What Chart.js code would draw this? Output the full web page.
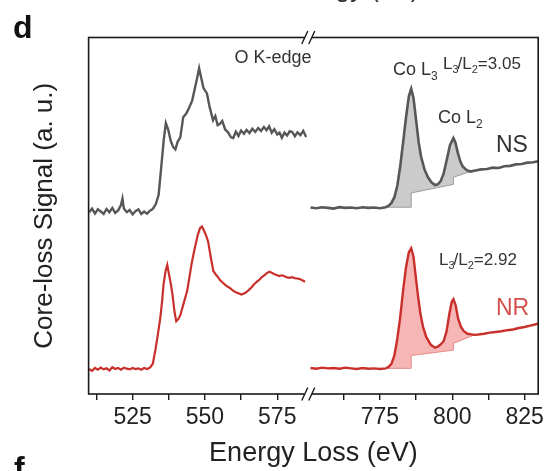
<!DOCTYPE html>
<html>
<head>
<meta charset="utf-8">
<script src="https://cdn.jsdelivr.net/npm/chart.js@4.4.1/dist/chart.umd.min.js"></script>
<style>
  html, body { margin: 0; padding: 0; background: #fff; }
  #c { display: block; }
</style>
</head>
<body>
<canvas id="c" width="548" height="471"></canvas>
<script>
/* EELS core-loss spectra, O K-edge + Co L-edge, broken energy axis */

// axis segments (eV) either side of the break
const leftRange = [509.8, 585.9];
const rightRange = [750.4, 829.7];
const majorTicks = [525, 550, 575, 775, 800, 825];
const minorTicks = [512.5, 537.5, 562.5, 762.5, 787.5, 812.5];

// NS, O K-edge
const oEnergyNS = [510,511,512,513,514,515,516,517,518,519,520,521,521.5,522,523,524,525,526,527,528,529,530,531,532,533,534,535,535.8,536.5,537.3,538.2,539,539.8,540.6,541.5,542.5,543.5,544.5,545.6,546.5,547.3,548,548.7,549.5,550.7,551.6,552.8,553.6,554.4,555.2,556,557,558,559,559.8,560.7,561.6,562.5,563.5,564.4,565.4,566.4,567.4,568.4,569.4,570.4,571.3,572.2,573.1,574,575,575.8,576.6,577.5,578.4,579.3,580.2,581.1,582,583,584,585];
const oSignalNS = [51.0,52.0,50.6,51.8,51.2,50.5,51.9,51.0,52.2,50.8,51.5,53.0,54.8,52.0,51.0,51.6,50.4,51.3,51.8,50.5,51.2,50.6,51.4,51.9,53.2,55.8,64.5,71.5,76.0,74.2,71.0,69.3,68.6,70.8,72.0,77.6,78.6,80.2,82.3,85.6,88.6,91.4,88.8,85.8,84.3,80.6,76.8,78.0,75.4,75.8,76.6,74.2,73.4,72.0,71.8,73.6,72.4,73.9,73.0,74.1,73.2,74.4,73.5,74.6,73.8,74.9,74.0,75.1,73.3,74.3,72.8,73.3,71.9,73.3,72.5,73.7,73.5,72.3,73.4,72.6,73.8,72.1];

// NR, O K-edge
const oEnergyNR = [510,511,512,513,514,515,516,517,518,519,520,521,522,523,524,525,526,527,528,529,530,531,532,532.9,533.8,534.6,535.2,535.7,536.4,537,537.6,538.2,538.8,539.5,540.1,540.8,541.5,542.5,543.2,543.9,544.7,545.4,546,546.8,547.5,548.3,549,549.7,550.4,551.1,552,552.9,553.7,554.5,555.3,556.2,557.3,558.5,559.7,560.9,561.8,562.6,563.3,564,564.8,565.5,566.2,567,568,568.9,569.7,570.5,571.4,572.3,573.1,574,574.8,575.7,576.6,577.5,578.4,579.2,580.1,581,581.8,582.6,583.5,584.6];
const oSignalNR = [7.0,6.5,7.3,6.8,7.4,6.9,7.2,6.6,7.5,7.0,7.3,6.8,7.4,7.1,6.9,7.3,7.0,7.2,6.8,7.3,7.0,7.4,8.5,12.4,17.0,21.5,26.0,30.7,34.5,36.2,33.5,31.0,27.9,23.0,20.4,21.0,22.1,25.0,27.0,29.0,33.0,36.5,39.0,42.0,44.5,46.5,47.0,45.8,44.5,42.8,38.5,34.5,33.6,32.8,31.9,31.2,30.4,29.8,29.0,28.5,28.2,27.9,28.1,28.4,28.9,29.4,30.0,30.8,31.5,32.1,32.8,33.3,33.9,34.3,34.0,33.6,33.4,33.1,33.3,33.0,32.7,32.6,32.8,32.5,32.4,32.3,32.0,31.5];

// NS, Co L-edge
const coEnergyNS = [751,753,755,757,759,761,763,765,767,769,771,773,775,777,778,779,780,781,782,783,784,785,785.8,786.6,787.5,788.4,789.2,790.4,791.6,792.8,794,795,796,797,798.1,799.2,800.4,801.1,801.9,802.8,803.6,805,806.3,808,810,812,814,816,818,820,822,824,826,828,829.6];
const coSignalNS = [52.3,52.1,52.4,52.2,52.0,52.4,52.2,52.3,52.1,52.4,52.2,52.3,52.1,52.4,52.8,53.6,55.2,58.4,63.8,70.5,77.5,83.5,85.6,83.0,76.8,70.5,66.6,63.0,60.8,59.4,58.6,58.8,59.7,61.8,65.7,69.8,71.8,70.5,67.7,65.2,63.8,62.8,62.4,62.7,63.0,63.1,63.5,63.4,63.9,64.0,64.4,64.5,64.9,65.0,65.3];

// NR, Co L-edge
const coEnergyNR = [751,753,755,757,759,761,763,765,767,769,771,773,775,777,778,779,780,781,782,783,784,785,785.8,786.6,787.3,788.1,789,789.9,791,792.6,794,795,796,797,798,799,799.8,800.4,801.2,802,803,804,805.3,807.7,809,811,813,815,817,819,821,823,825,827,829.6];
const coSignalNR = [7.3,7.1,7.4,7.2,7.3,7.1,7.4,7.2,7.0,7.3,7.1,7.2,7.0,7.2,7.6,8.5,10.8,15.5,21.5,29.0,35.5,39.8,40.9,38.5,33.5,27.9,22.5,18.8,16.0,13.8,13.0,13.3,13.9,14.8,17.5,22.5,25.8,26.6,24.8,21.2,18.8,17.6,16.9,16.6,16.7,16.9,17.2,17.4,17.6,17.9,18.1,18.5,18.8,19.2,19.7];

// two-step background under the L3 / L2 white lines
const stepEnergyNS = [777, 785.8, 785.8, 800.4, 800.4, 806.3];
const stepSignalNS = [52.4, 52.4, 56.4, 58.8, 60.8, 62.4];
const stepEnergyNR = [777, 785.8, 785.8, 800.4, 800.4, 807.7];
const stepSignalNR = [7.2, 7.2, 10.8, 12.3, 14.2, 16.6];

const FONT = "'Liberation Sans', Arial, Helvetica, sans-serif";
const GRAY = '#575757';
const RED = '#c9302c';

const gap = rightRange[0] - leftRange[1];
function mapX(e) { return e > leftRange[1] ? e - gap : e; }
function pts(E, V) { return E.map((e, i) => ({ x: mapX(e), y: V[i] })); }

// closed outline: spectrum over the step range, then back along the step
function shape(E, V, sE, sV) {
  const out = [];
  E.forEach((e, i) => {
    if (e >= sE[0] && e <= sE[sE.length - 1]) out.push({ x: mapX(e), y: V[i] });
  });
  for (let i = sE.length - 1; i >= 0; i--) out.push({ x: mapX(sE[i]), y: sV[i] });
  return out;
}

const line = { pointRadius: 0, tension: 0, fill: false };

function drawParts(ctx, x, y, parts, color) {
  ctx.fillStyle = color;
  ctx.textBaseline = 'alphabetic';
  ctx.textAlign = 'left';
  parts.forEach(p => {
    ctx.font = p[1] + 'px ' + FONT;
    ctx.fillText(p[0], x, y + p[2]);
    x += ctx.measureText(p[0]).width + (p[3] || 0);
  });
}

const decor = {
  id: 'decor',
  afterDraw(chart) {
    const ctx = chart.ctx;
    const a = chart.chartArea;
    const xs = chart.scales.x;
    ctx.save();

    // frame
    ctx.strokeStyle = '#1a1a1a';
    ctx.lineWidth = 1.6;
    ctx.strokeRect(a.left, a.top, a.right - a.left, a.bottom - a.top);

    // axis break marks
    const bx = xs.getPixelForValue(leftRange[1]);
    [a.top, a.bottom].forEach(y => {
      ctx.fillStyle = '#fff';
      ctx.fillRect(bx - 4, y - 2, 7, 4);
      ctx.beginPath();
      ctx.moveTo(bx - 7, y + 6.5); ctx.lineTo(bx - 1, y - 6.5);
      ctx.moveTo(bx, y + 6.5); ctx.lineTo(bx + 6, y - 6.5);
      ctx.lineWidth = 1.4;
      ctx.strokeStyle = '#1a1a1a';
      ctx.stroke();
    });

    // annotations
    ctx.fillStyle = '#333';
    ctx.font = '18px ' + FONT;
    ctx.textAlign = 'center';
    ctx.fillText('O K-edge', 273, 63);

    drawParts(ctx, 393, 75, [['Co L', 18, 0], ['3', 12, 5]], '#333');
    drawParts(ctx, 443, 69, [['L', 17, 0], ['3', 11, 4, -1], ['/', 17, 0], ['L', 17, 0], ['2', 11, 4], ['=3.05', 17, 0]], '#333');
    drawParts(ctx, 438, 123, [['Co L', 18, 0], ['2', 12, 5]], '#333');
    drawParts(ctx, 496, 152, [['NS', 23, 0]], '#333');
    drawParts(ctx, 439, 265, [['L', 17, 0], ['3', 11, 4, -1], ['/', 17, 0], ['L', 17, 0], ['2', 11, 4], ['=2.92', 17, 0]], '#333');
    drawParts(ctx, 496, 315, [['NR', 23, 0]], '#d5504c');

    // panel letters and the cut-off title of the panel above
    ctx.fillStyle = '#111';
    ctx.textAlign = 'left';
    ctx.font = 'bold 32px ' + FONT;
    ctx.fillText('d', 13, 38);
    ctx.fillText('f', 14, 479);
    ctx.font = '26px ' + FONT;
    ctx.fillStyle = '#333';
    ctx.textAlign = 'center';
    ctx.fillText('Energy (eV)', 350, -3);
    ctx.restore();
  }
};

new Chart(document.getElementById('c'), {
  type: 'line',
  data: {
    datasets: [
      { ...line, label: 'NS O', data: pts(oEnergyNS, oSignalNS), borderColor: GRAY, borderWidth: 2.4 },
      { ...line, label: 'NS Co', data: pts(coEnergyNS, coSignalNS), borderColor: GRAY, borderWidth: 2.6 },
      { ...line, label: 'NR O', data: pts(oEnergyNR, oSignalNR), borderColor: RED, borderWidth: 2.2 },
      { ...line, label: 'NR Co', data: pts(coEnergyNR, coSignalNR), borderColor: RED, borderWidth: 2.4 },
      { ...line, label: 'NS step', data: pts(stepEnergyNS, stepSignalNS), borderColor: '#9c9c9c', borderWidth: 1 },
      { ...line, label: 'NR step', data: pts(stepEnergyNR, stepSignalNR), borderColor: '#e68b88', borderWidth: 1 },
      { ...line, label: 'NS area', data: shape(coEnergyNS, coSignalNS, stepEnergyNS, stepSignalNS),
        fill: 'shape', backgroundColor: '#cbcbcb', borderColor: 'rgba(0,0,0,0)', borderWidth: 0 },
      { ...line, label: 'NR area', data: shape(coEnergyNR, coSignalNR, stepEnergyNR, stepSignalNR),
        fill: 'shape', backgroundColor: '#f6b6b5', borderColor: 'rgba(0,0,0,0)', borderWidth: 0 },
    ],
  },
  options: {
    responsive: false,
    devicePixelRatio: 1,
    animation: false,
    layout: { padding: { top: 37.5, right: 7, bottom: 1.5, left: 0 } },
    plugins: { legend: { display: false }, tooltip: { enabled: false } },
    scales: {
      x: {
        type: 'linear',
        min: leftRange[0],
        max: mapX(rightRange[1]),
        afterBuildTicks: s => {
          s.ticks = majorTicks.concat(minorTicks).map(mapX).sort((p, q) => p - q).map(v => ({ value: v }));
        },
        ticks: {
          autoSkip: false, maxRotation: 0, padding: 4, color: '#222',
          font: { family: FONT, size: 23 },
          callback: v => {
            const m = majorTicks.find(t => Math.abs(mapX(t) - v) < 1e-6);
            return m === undefined ? '' : String(m);
          },
        },
        grid: { drawOnChartArea: false, drawTicks: true, tickLength: 6, color: '#1a1a1a', lineWidth: 1.4 },
        border: { display: false },
        title: { display: true, text: 'Energy Loss (eV)', color: '#222', font: { family: FONT, size: 27 }, padding: { top: 1.5, bottom: 0 } },
      },
      y: {
        min: 0,
        max: 100,
        ticks: { display: false },
        grid: { display: false, drawTicks: false },
        border: { display: false },
        title: { display: true, text: 'Core-loss Signal (a. u.)', color: '#222', font: { family: FONT, size: 26 }, padding: { top: 29.4, bottom: 28 } },
      },
    },
  },
  plugins: [decor],
});
</script>
</body>
</html>
